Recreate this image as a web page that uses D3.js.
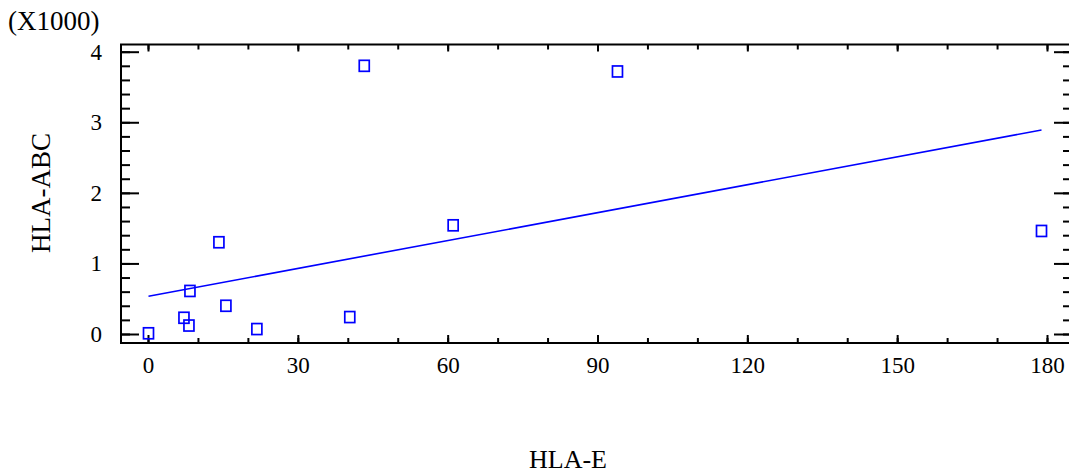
<!DOCTYPE html>
<html>
<head>
<meta charset="utf-8">
<script src="https://cdn.jsdelivr.net/npm/d3@7"></script>
<style>
  body { margin: 0; background: #fff; }
  svg { display: block; }
  text { font-family: "Liberation Serif", "Times New Roman", serif; fill: #000; }
</style>
</head>
<body>
<div id="viz-1"></div>
<script>
const containerId = 'viz-1';

// HLA-E (x) vs HLA-ABC (y, in thousands)
const hlaE   = [0.1, 7.2, 8.2, 8.4, 15.6, 21.8, 14.2, 40.4, 43.3, 61.1, 94.0, 178.9];
const hlaABC = [0.01, 0.23, 0.12, 0.61, 0.40, 0.07, 1.30, 0.24, 3.80, 1.54, 3.72, 1.46];

// fitted line
const fitIntercept = 0.534;
const fitSlope = 0.01317;

const xTicks = [0, 30, 60, 90, 120, 150, 180];
const yTicks = [0, 1, 2, 3, 4];
const xMinorTicks = d3.range(0, 181, 10);
const yMinorTicks = d3.range(0, 4.01, 0.2);

const serif = '"Liberation Serif", "Times New Roman", serif';

function main() {
  const width = 1069, height = 473;
  const frame = { left: 121, right: 1072, top: 44.5, bottom: 343 };

  const svg = d3.select('#' + containerId).append('svg')
    .attr('width', width).attr('height', height);

  const x = d3.scaleLinear().domain([0, 180]).range([148, 1047]);
  const y = d3.scaleLinear().domain([0, 4]).range([334, 51.7]);

  // tick marks (inward), bottom / top / left / right
  function ticks(axisFn, pos, vals, size) {
    const g = svg.append('g').attr('transform', pos)
      .call(axisFn.tickValues(vals).tickSize(size).tickFormat(''));
    g.select('.domain').remove();
    g.selectAll('.tick line').attr('stroke', '#000').attr('stroke-width', 2);
  }
  ticks(d3.axisBottom(x), `translate(0,${frame.bottom})`, xMinorTicks, -5);
  ticks(d3.axisBottom(x), `translate(0,${frame.bottom})`, xTicks, -8);
  ticks(d3.axisTop(x), `translate(0,${frame.top})`, xMinorTicks, -5);
  ticks(d3.axisTop(x), `translate(0,${frame.top})`, xTicks, -7);
  ticks(d3.axisLeft(y), `translate(${frame.left},0)`, yMinorTicks, -9);
  ticks(d3.axisLeft(y), `translate(${frame.left},0)`, yTicks, -18);
  ticks(d3.axisRight(y), `translate(${frame.right},0)`, yMinorTicks, -9);
  ticks(d3.axisRight(y), `translate(${frame.right},0)`, yTicks, -18);

  // frame
  svg.append('path')
    .attr('d', `M${frame.right},${frame.top}H${frame.left}V${frame.bottom}H${frame.right}`)
    .attr('fill', 'none').attr('stroke', '#000').attr('stroke-width', 2);

  // tick labels
  const xl = svg.append('g').attr('transform', `translate(0,${frame.bottom})`)
    .call(d3.axisBottom(x).tickValues(xTicks).tickFormat(d3.format('d'))
      .tickSize(0).tickPadding(14));
  xl.attr('font-family', serif);
  xl.select('.domain').remove();
  xl.selectAll('text').style('font-size', '23px').style('font-family', serif);

  const yl = svg.append('g').attr('transform', `translate(${frame.left},0)`)
    .call(d3.axisLeft(y).tickValues(yTicks).tickFormat(d3.format('d'))
      .tickSize(0).tickPadding(19));
  yl.attr('font-family', serif);
  yl.select('.domain').remove();
  yl.selectAll('text').style('font-size', '23px').style('font-family', serif);

  // fitted line
  const x0 = d3.min(hlaE), x1 = d3.max(hlaE);
  svg.append('line')
    .attr('x1', x(x0)).attr('y1', y(fitIntercept + fitSlope * x0))
    .attr('x2', x(x1)).attr('y2', y(fitIntercept + fitSlope * x1))
    .attr('stroke', '#0000ff').attr('stroke-width', 1.6);

  // points
  svg.append('g').selectAll('rect')
    .data(hlaE.map((d, i) => [d, hlaABC[i]]))
    .join('rect')
    .attr('x', d => x(d[0]) - 5)
    .attr('y', d => y(d[1]) - 5.5)
    .attr('width', 10).attr('height', 11)
    .attr('fill', 'none').attr('stroke', '#0000ff').attr('stroke-width', 1.7);

  // titles
  svg.append('text').attr('x', 8).attr('y', 30)
    .style('font-size', '27px').text('(X1000)');

  svg.append('text').attr('x', 568).attr('y', 468)
    .attr('text-anchor', 'middle').style('font-size', '26px').text('HLA-E');

  svg.append('text')
    .attr('transform', 'translate(50,193) rotate(-90)')
    .attr('text-anchor', 'middle').style('font-size', '27px').text('HLA-ABC');
}

main();
</script>
</body>
</html>
